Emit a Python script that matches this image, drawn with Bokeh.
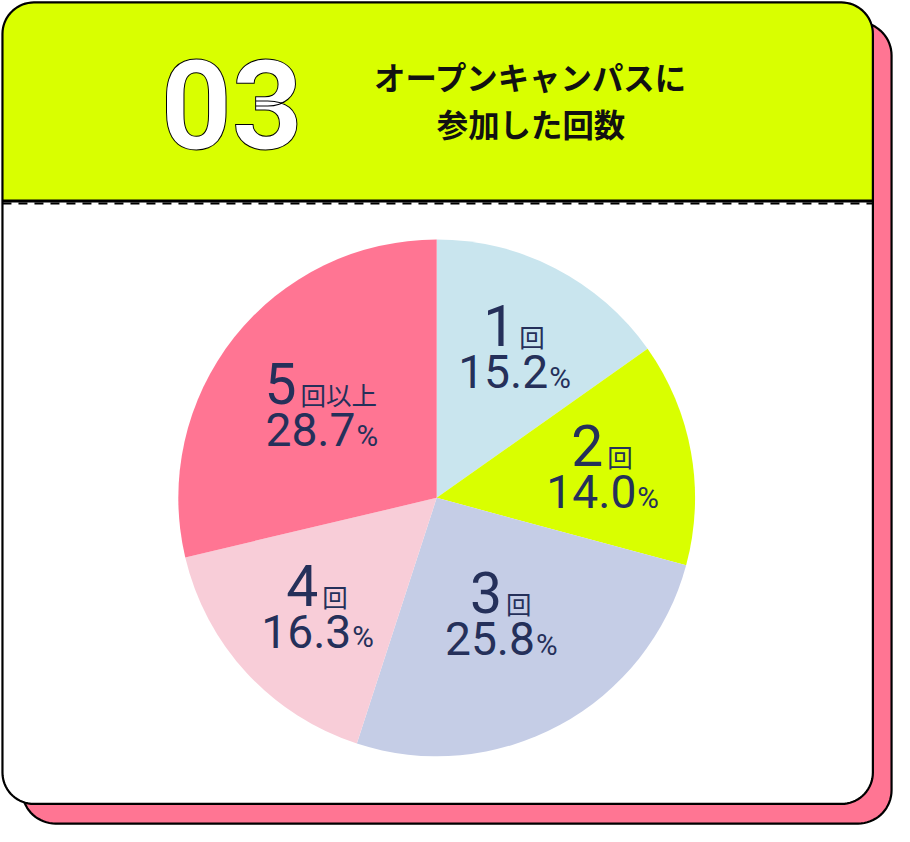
import numpy as np
from bokeh.plotting import figure
from bokeh.models import Range1d
from bokeh.core.properties import value
from bokeh.embed import file_html
from bokeh.resources import INLINE

# ---------------- data ----------------
categories = ["1回", "2回", "3回", "4回", "5回以上"]
shares = [15.2, 14.0, 25.8, 16.3, 28.7]
colors = ["#c9e5ee", "#d9ff00", "#c5cde6", "#f8cdd8", "#ff7593"]
badge_text = "03"
title_lines = ["オープンキャンパスに", "参加した回数"]
label_r = [0.65, 0.65, 0.52, 0.63, 0.57]   # label distance (fraction of radius)

# ---------------- canvas ----------------
W, H = 910, 842
PW, PH = 894, 826
SX = PW / W
SY = PH / H

p = figure(width=PW, height=PH, x_range=Range1d(0, W), y_range=Range1d(0, H),
           output_backend="svg", toolbar_location=None, min_border=0)
p.axis.visible = False
p.grid.visible = False
p.outline_line_color = None
p.background_fill_color = None
p.border_fill_color = None


def Y(v):
    return H - v


def rounded(x0, y0, x1, y1, r, top_only=False):
    pts = []

    def arc(cx, cy, a0, a1):
        for a in np.linspace(a0, a1, 18):
            pts.append((cx + r * np.cos(a), cy + r * np.sin(a)))

    arc(x0 + r, y0 + r, np.pi, 1.5 * np.pi)
    arc(x1 - r, y0 + r, 1.5 * np.pi, 2 * np.pi)
    if top_only:
        pts.append((x1, y1))
        pts.append((x0, y1))
    else:
        arc(x1 - r, y1 - r, 0, 0.5 * np.pi)
        arc(x0 + r, y1 - r, 0.5 * np.pi, np.pi)
    xs = [q[0] for q in pts]
    ys = [Y(q[1]) for q in pts]
    return xs, ys


# shadow card
xs, ys = rounded(22, 22, 907, 839, 34)
p.patch(xs, ys, fill_color="#ff7593", line_color="black", line_width=2.2)
# main card
xs, ys = rounded(2, 2, 888, 819, 32)
p.patch(xs, ys, fill_color="white", line_color=None)
# header
hx, hy = rounded(2, 2, 888, 204, 32, top_only=True)
p.patch(hx, hy, fill_color="#d9ff00", line_color=None)
# separator
p.line([2, 888], [Y(204.5), Y(204.5)], line_color="black", line_width=3)
p.line([2, 888], [Y(207), Y(207)], line_color="black", line_width=2, line_dash="9 7")
# main card outline
p.patch(xs, ys, fill_color=None, line_color="black", line_width=2.2)

# ---------------- pie ----------------
CX, CY, R = 444, Y(507), 263
cum = np.concatenate([[0], np.cumsum(shares)])
start = np.pi / 2 - 2 * np.pi * cum[:-1] / 100
end = np.pi / 2 - 2 * np.pi * cum[1:] / 100
p.wedge(x=CX, y=CY, radius=R, start_angle=start, end_angle=end,
        direction="clock", fill_color=colors, line_color=None)

# ---------------- labels ----------------
NUMF = value("Roboto")
CJKF = value("Noto Sans CJK JP")
NAVY = "#25305a"
F1, FS, F2, FP = 58, 26, 47, 30
DIG, DOT, PCT = 0.562, 0.263, 0.733

n1x, n1y, n1t, s1x, s1y, s1t = [], [], [], [], [], []
n2x, n2y, n2t, s2x, s2y = [], [], [], [], []
mids = 2 * np.pi * (cum[:-1] + cum[1:]) / 2 / 100
for i, cat in enumerate(categories):
    th = mids[i]
    ax = CX + label_r[i] * R * np.sin(th)
    ay = CY + label_r[i] * R * np.cos(th)
    num, suf = cat[0], cat[1:]
    wn = DIG * F1 * len(num)
    ws = FS * len(suf) + 4
    split = ax + (-(wn + ws) / 2 + wn) / SX
    y1 = ay + 23 / SY
    n1x.append(split); n1y.append(y1); n1t.append(num)
    s1x.append(split + 4 / SX); s1y.append(y1 - 10 / SY); s1t.append(suf)
    pct = f"{shares[i]:.1f}"
    wn2 = (DIG * (len(pct) - 1) + DOT) * F2
    ws2 = PCT * FP + 1
    split2 = ax + (-(wn2 + ws2) / 2 + wn2) / SX
    y2 = ay - 23 / SY
    n2x.append(split2); n2y.append(y2); n2t.append(pct)
    s2x.append(split2 + 1 / SX); s2y.append(y2 - 6 / SY)

p.text(x=n1x, y=n1y, text=n1t, text_font=NUMF, text_font_size=f"{F1*SX:.1f}px",
       text_color=NAVY, text_align="right", text_baseline="middle")
p.text(x=s1x, y=s1y, text=s1t, text_font=CJKF, text_font_size=f"{FS*SX:.1f}px",
       text_color=NAVY, text_align="left", text_baseline="middle")
p.text(x=n2x, y=n2y, text=n2t, text_font=NUMF, text_font_size=f"{F2*SX:.1f}px",
       text_color=NAVY, text_align="right", text_baseline="middle")
p.text(x=s2x, y=s2y, text=["%"] * len(s2x), text_font=NUMF, text_font_size=f"{FP*SX:.1f}px",
       text_color=NAVY, text_align="left", text_baseline="middle")

# ---------------- header texts ----------------
p.text(x=[163], y=[Y(106)], text=[badge_text], text_font=NUMF, text_font_style="bold",
       text_font_size=f"{126*SX:.1f}px", text_color="white", text_outline_color="black",
       text_align="left", text_baseline="middle")
p.text(x=[540, 540], y=[Y(77), Y(125)], text=title_lines, text_font=CJKF,
       text_font_style="bold", text_font_size=f"{32*SX:.1f}px", text_color="#111111",
       text_align="center", text_baseline="middle")

open("out.html", "w").write(file_html(p, INLINE))
